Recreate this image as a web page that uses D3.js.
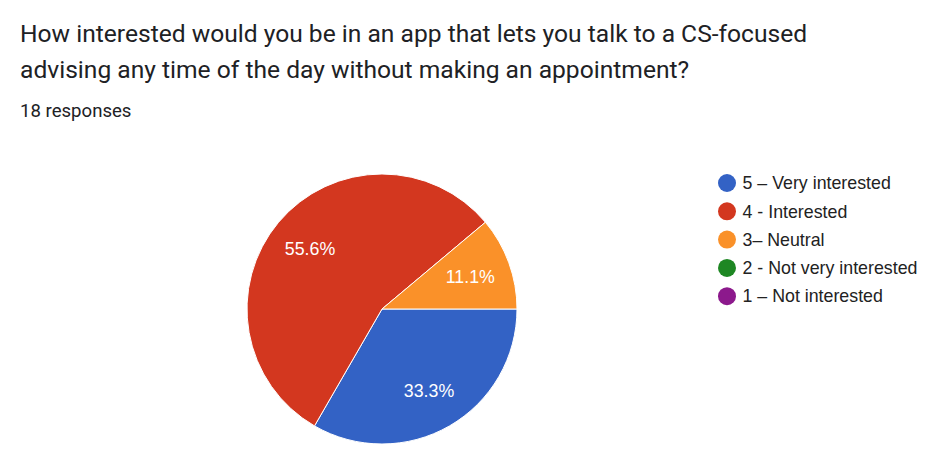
<!DOCTYPE html>
<html>
<head>
<meta charset="utf-8">
<script src="https://cdn.jsdelivr.net/npm/d3@7"></script>
<style>
  body { margin: 0; background: #fff; }
  svg { display: block; }
</style>
</head>
<body>
<div id="chart"></div>
<script>
// Google Forms style pie: interest in CS-focused advising app

var categories = ["5 \u2013 Very interested", "4 - Interested", "3\u2013 Neutral", "2 - Not very interested", "1 \u2013 Not interested"];
var counts = [6, 10, 2, 0, 0];
var colors = ["#3362c5", "#d3371f", "#fa9129", "#1e8723", "#8c198c"];
var titleLines = [
  "How interested would you be in an app that lets you talk to a CS-focused",
  "advising any time of the day without making an appointment?"
];
var subtitle = "18 responses";

var svgWidth = 933;
var svgHeight = 455;

var svg = d3.select("#chart")
  .append("svg")
  .attr("width", svgWidth)
  .attr("height", svgHeight);

// title + response count
svg.selectAll("text.title")
  .data(titleLines)
  .enter()
  .append("text")
  .attr("class", "title")
  .attr("x", 20)
  .attr("y", (d, i) => 41.5 + i * 36.5)
  .attr("font-family", "Roboto, sans-serif")
  .attr("font-size", 24.6)
  .attr("fill", "#202124")
  .text(d => d);

svg.append("text")
  .attr("x", 20)
  .attr("y", 117)
  .attr("font-family", "Roboto, sans-serif")
  .attr("font-size", 18.6)
  .attr("fill", "#202124")
  .text(subtitle);

// pie
var cx = 382, cy = 309, radius = 135;
var total = d3.sum(counts);
var data = categories.map((c, i) => ({ name: c, value: counts[i], color: colors[i] }));

// google charts start at 3 o'clock and go clockwise
var pie = d3.pie()
  .sort(null)
  .value(d => d.value)
  .startAngle(Math.PI / 2)
  .endAngle(Math.PI / 2 + 2 * Math.PI);

var arc = d3.arc().innerRadius(0).outerRadius(radius);
var labelArc = d3.arc().innerRadius(94).outerRadius(94);

var pieGroup = svg.append("g")
  .attr("transform", `translate(${cx}, ${cy})`);

var arcs = pie(data).filter(d => d.data.value > 0);

pieGroup.selectAll("path")
  .data(arcs)
  .enter()
  .append("path")
  .attr("d", arc)
  .attr("fill", d => d.data.color)
  .attr("stroke", "#fff")
  .attr("stroke-width", 1);

pieGroup.selectAll("text")
  .data(arcs)
  .enter()
  .append("text")
  .attr("transform", d => `translate(${labelArc.centroid(d)})`)
  .attr("dy", "0.35em")
  .attr("text-anchor", "middle")
  .attr("font-family", "Arial, 'Liberation Sans', sans-serif")
  .attr("font-size", 17.8)
  .attr("fill", "#fff")
  .text(d => (d.data.value / total * 100).toFixed(1) + "%");

// legend
var legend = svg.append("g")
  .attr("transform", "translate(727, 183)");

var items = legend.selectAll("g")
  .data(data)
  .enter()
  .append("g")
  .attr("transform", (d, i) => `translate(0, ${i * 28.3})`);

items.append("circle")
  .attr("r", 9)
  .attr("fill", d => d.color);

items.append("text")
  .attr("x", 15.5)
  .attr("dy", "0.35em")
  .attr("font-family", "Arial, 'Liberation Sans', sans-serif")
  .attr("font-size", 17.8)
  .attr("fill", "#222")
  .text(d => d.name);
</script>
</body>
</html>
